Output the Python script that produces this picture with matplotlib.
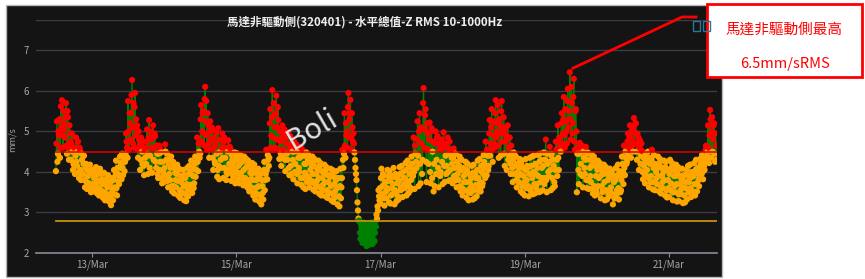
import numpy as np
import pandas as pd
import matplotlib
matplotlib.use("Agg")
import matplotlib.pyplot as plt
import matplotlib.dates as mdates
from matplotlib.patches import Rectangle
from matplotlib.lines import Line2D

plt.rcParams["font.family"] = ["Noto Sans CJK TC", "DejaVu Sans"]

title = "馬達非驅動側(320401) - 水平總值-Z RMS 10-1000Hz"
note_top = "馬達非驅動側最高"
note_bottom = "6.5mm/sRMS"
y_unit = "mm/s"
watermark = "Boli"

start = "2024-03-12 12:00"
step = "20min"
warn_level = 4.5   # red threshold line
low_level = 2.8    # orange threshold line
tick_days = ["2024-03-13", "2024-03-15", "2024-03-17", "2024-03-19", "2024-03-21"]

# RMS readings (mm/s) at :00 / :20 / :40 of each hour
mar12 = [4.02, 5.25, 4.45, 4.9, 4.35, 5.62,
         5.77, 4.6, 5.2, 4.85, 5.7, 4.45,
         5.35, 4.3, 4.95, 4.3, 4.95, 4.05,
         4.6, 3.95, 4.85, 4.15, 4.75, 3.85,
         4.55, 3.8, 4.3, 3.95, 4.4, 3.62,
         4.2, 3.58, 3.9, 3.72, 4.18, 3.5]
mar13 = [4.05, 3.52, 3.85, 3.6, 4.12, 3.47,
         3.95, 3.42, 4.08, 3.55, 3.82, 3.36,
         3.98, 3.3, 3.68, 3.45, 3.92, 3.27,
         3.72, 3.18, 3.5, 3.3, 4.05, 3.62,
         4.28, 3.42, 3.95, 3.7, 4.38, 4.1,
         4.45, 3.92, 4.25, 4.25, 4.95, 4.6,
         5.75, 4.55, 5.2, 5.45, 6.27, 4.7,
         4.6, 5.95, 5.3, 5.15, 4.35, 4.8,
         4.05, 4.85, 4.5, 4.75, 3.92, 4.35,
         4.2, 5.05, 3.95, 5.28, 4.4, 4.8,
         3.98, 5.15, 4.6, 4.88, 4.1, 4.45,
         3.85, 4.65, 4.25, 4.48, 3.72, 4.0]
mar14 = [3.75, 4.68, 4.3, 4.45, 3.62, 3.95,
         3.8, 4.38, 3.52, 4.25, 3.47, 3.98,
         3.62, 4.18, 3.42, 4.08, 3.36, 3.75,
         3.5, 4.05, 3.3, 3.85, 3.28, 4.1,
         3.4, 4.15, 3.68, 4.28, 3.48, 3.9,
         3.72, 4.38, 4.05, 4.85, 4.02, 4.5,
         4.45, 5.65, 5.0, 5.5, 4.65, 6.1,
         5.75, 4.55, 5.15, 4.35, 5.25, 4.8,
         5.05, 4.05, 4.6, 4.2, 4.98, 3.88,
         5.08, 3.82, 4.5, 4.1, 4.95, 3.85,
         4.85, 4.35, 3.8, 3.95, 4.78, 4.2,
         4.58, 3.78, 4.3, 3.9, 4.48, 3.72]
mar15 = [4.47, 3.82, 4.15, 3.72, 4.42, 3.98,
         4.25, 3.67, 4.38, 3.85, 4.32, 3.62,
         4.28, 3.52, 3.98, 3.62, 4.22, 3.42,
         4.18, 3.32, 3.8, 3.45, 4.08, 3.27,
         3.95, 3.2, 3.65, 3.32, 4.25, 3.8,
         4.55, 3.82, 4.3, 4.35, 5.55, 4.9,
         6.02, 4.55, 5.4, 4.6, 5.88, 5.1,
         5.28, 4.32, 4.75, 4.15, 5.15, 4.55,
         5.05, 4.02, 4.7, 4.3, 4.98, 3.92,
         4.88, 3.95, 4.5, 3.82, 4.75, 4.2,
         4.68, 3.72, 4.35, 4.0, 4.62, 3.68,
         4.55, 3.62, 4.2, 3.58, 4.48, 3.9]
mar16 = [4.42, 3.62, 4.05, 3.78, 4.38, 3.56,
         4.32, 3.52, 3.95, 3.65, 4.28, 3.46,
         4.22, 3.42, 3.85, 3.55, 4.18, 3.4,
         4.12, 3.36, 3.75, 3.48, 4.08, 3.3,
         4.05, 3.26, 3.7, 3.38, 4.02, 3.2,
         3.85, 3.15, 4.08, 3.62, 4.55, 4.1,
         5.45, 4.35, 4.9, 4.6, 5.95, 5.3,
         5.78, 4.55, 5.1, 4.95, 4.48, 4.1,
         3.8, 3.25, 2.85, 2.78, 2.35, 2.62,
         2.25, 2.75, 2.45, 2.7, 2.17, 2.52,
         2.2, 2.68, 2.38, 2.75, 2.22, 2.55,
         2.3, 2.78, 2.95, 3.15, 3.55, 3.3]
mar17 = [3.22, 4.08, 3.65, 3.9, 3.17, 3.5,
         3.35, 4.05, 3.78, 4.02, 3.22, 3.6,
         3.45, 4.1, 3.2, 3.95, 3.28, 3.72,
         3.32, 4.12, 3.55, 4.15, 3.38, 3.85,
         3.6, 4.22, 3.42, 4.28, 3.48, 3.95,
         3.55, 4.38, 4.05, 4.85, 3.58, 4.45,
         4.1, 5.25, 3.65, 5.45, 3.72, 4.7,
         4.3, 6.07, 5.05, 5.55, 3.75, 4.95,
         4.2, 5.22, 3.72, 5.08, 4.5, 3.52,
         3.65, 5.0, 4.3, 4.88, 3.62, 4.55,
         4.0, 4.8, 3.7, 4.98, 3.75, 4.4,
         4.15, 4.85, 3.78, 4.75, 3.8, 4.35]
mar18 = [3.72, 4.58, 4.1, 4.45, 3.62, 3.95,
         3.8, 4.38, 3.52, 4.3, 3.42, 3.9,
         3.55, 4.25, 3.36, 4.2, 3.3, 3.75,
         3.48, 4.15, 3.32, 4.18, 3.35, 3.85,
         3.4, 4.28, 3.65, 4.32, 3.52, 4.0,
         3.72, 4.42, 4.1, 4.75, 3.92, 4.4,
         4.15, 5.28, 4.7, 5.55, 4.25, 4.9,
         4.6, 5.77, 5.2, 5.65, 4.35, 4.95,
         4.4, 5.75, 5.1, 5.35, 4.15, 4.75,
         4.05, 5.15, 4.6, 4.85, 3.95, 4.45,
         3.75, 4.48, 4.15, 4.38, 3.62, 4.0,
         3.75, 4.32, 3.52, 4.28, 3.47, 3.9]
mar19 = [3.42, 4.32, 3.8, 4.1, 3.4, 4.35,
         3.6, 4.38, 3.45, 4.4, 3.47, 3.95,
         3.7, 4.42, 3.5, 4.45, 3.52, 4.1,
         3.55, 4.48, 3.85, 4.8, 3.5, 4.2,
         3.9, 4.62, 3.55, 4.45, 3.6, 4.15,
         3.65, 4.75, 4.3, 5.15, 4.05, 4.6,
         4.5, 5.45, 4.95, 5.85, 4.6, 5.25,
         4.7, 6.05, 5.5, 6.46, 4.8, 5.7,
         5.2, 6.3, 4.55, 5.55, 3.5, 4.6,
         3.7, 4.72, 4.2, 4.65, 3.62, 4.35,
         3.95, 4.62, 3.6, 4.48, 3.58, 4.1,
         3.75, 4.42, 3.47, 4.38, 3.42, 3.9]
mar20 = [3.45, 4.28, 3.85, 4.22, 3.35, 3.65,
         3.55, 4.18, 3.3, 4.12, 3.32, 3.8,
         3.4, 4.08, 3.62, 4.02, 3.2, 3.75,
         3.35, 4.1, 3.55, 4.18, 3.32, 3.9,
         3.55, 4.38, 4.0, 4.65, 3.92, 4.35,
         4.25, 4.95, 4.6, 5.15, 4.35, 4.8,
         4.5, 5.33, 4.95, 5.2, 4.3, 4.7,
         4.05, 4.78, 4.4, 4.52, 3.82, 4.15,
         3.72, 4.45, 4.05, 4.5, 3.62, 4.2,
         3.9, 4.55, 3.57, 4.42, 3.55, 4.0,
         3.7, 4.38, 3.52, 4.32, 3.47, 3.9,
         3.6, 4.28, 3.42, 4.25, 3.37, 3.8]
mar21 = [3.38, 4.3, 3.72, 4.22, 3.3, 3.9,
         3.5, 4.18, 3.27, 4.12, 3.28, 3.7,
         3.45, 4.08, 3.23, 3.9, 3.25, 3.6,
         3.32, 4.15, 3.75, 4.18, 3.38, 3.88,
         3.5, 4.22, 3.42, 4.3, 3.52, 3.95,
         3.65, 4.32, 4.05, 4.42, 3.82, 4.15,
         4.25, 4.65, 4.4, 5.15, 4.22, 5.53,
         4.35, 5.35, 4.8, 5.2, 4.25, 4.65]

# readings at :10 / :30 / :50 of each hour
mar12_b = [4.7, 4.25, 5.0, 5.3, 4.6, 5.1,
           4.9, 5.5, 5.05, 5.35, 4.65, 5.5,
           4.6, 5.15, 4.75, 4.7, 4.5, 4.2,
           4.15, 4.4, 4.25, 4.5, 4.0, 4.6,
           4.05, 4.45, 3.95, 4.2, 3.8, 4.1,
           3.75, 4.05, 3.65, 3.95, 3.6, 4.05]
mar13_b = [3.7, 3.95, 3.6, 3.85, 3.72, 4.0,
           3.6, 3.78, 3.52, 3.95, 3.7, 3.45,
           3.5, 3.82, 3.4, 3.62, 3.75, 3.38,
           3.35, 3.85, 3.6, 3.8, 3.45, 3.92,
           3.6, 4.1, 3.78, 3.9, 4.22, 3.82,
           4.1, 4.35, 4.02, 4.45, 4.75, 4.35,
           5.0, 5.45, 4.8, 5.9, 5.1, 5.7,
           5.6, 4.9, 5.05, 4.55, 5.0, 4.65,
           4.3, 4.65, 4.2, 4.15, 4.55, 4.6,
           4.75, 4.45, 4.85, 4.1, 5.0, 4.6,
           4.85, 4.3, 4.95, 4.25, 4.65, 3.95,
           4.45, 4.05, 4.55, 3.85, 4.25, 3.92]
mar14_b = [4.1, 4.5, 3.9, 3.78, 4.2, 4.3,
           4.1, 3.65, 4.22, 3.65, 4.1, 3.8,
           3.95, 3.78, 4.05, 3.55, 3.9, 3.48,
           3.85, 3.65, 3.92, 3.45, 3.7, 3.58,
           3.95, 3.55, 4.02, 3.68, 4.1, 3.6,
           4.2, 3.88, 4.25, 4.25, 4.7, 4.35,
           5.3, 4.75, 5.45, 4.95, 5.8, 5.25,
           4.9, 5.45, 4.7, 5.0, 4.55, 5.1,
           4.35, 4.85, 4.25, 4.7, 4.45, 4.05,
           4.15, 4.8, 4.3, 4.6, 4.35, 4.75,
           4.1, 4.6, 4.0, 4.5, 4.05, 4.62,
           4.0, 4.42, 4.12, 4.25, 4.05, 4.35]
mar15_b = [4.0, 4.3, 3.95, 4.2, 3.85, 4.28,
           3.85, 4.05, 3.78, 4.1, 3.75, 4.2,
           3.7, 4.12, 3.82, 3.95, 3.8, 4.05,
           3.5, 3.98, 3.62, 3.85, 3.65, 3.92,
           3.4, 3.8, 3.48, 4.05, 3.55, 3.95,
           4.05, 4.42, 4.15, 5.2, 4.6, 5.35,
           4.85, 5.7, 5.1, 5.45, 4.8, 5.6,
           4.55, 5.0, 4.45, 4.85, 4.35, 4.95,
           4.3, 4.85, 4.45, 4.7, 4.1, 4.55,
           4.15, 4.65, 4.3, 4.5, 4.0, 4.6,
           3.95, 4.5, 4.1, 4.35, 3.85, 4.45,
           3.85, 4.4, 3.98, 4.2, 3.75, 4.3]
mar16_b = [3.85, 4.25, 3.75, 4.15, 3.95, 4.25,
           3.7, 4.12, 3.78, 4.05, 3.85, 4.15,
           3.6, 4.02, 3.68, 3.95, 3.75, 4.05,
           3.55, 3.92, 3.5, 3.88, 3.65, 3.95,
           3.45, 3.88, 3.52, 3.8, 3.6, 3.85,
           3.4, 3.65, 3.35, 3.85, 4.3, 4.45,
           4.65, 5.2, 5.0, 5.6, 4.85, 5.45,
           4.85, 5.45, 4.75, 4.7, 4.3, 3.95,
           3.55, 3.05, 2.8, 2.5, 2.7, 2.42,
           2.6, 2.35, 2.52, 2.4, 2.62, 2.3,
           2.55, 2.3, 2.45, 2.35, 2.62, 2.28,
           2.5, 2.65, 2.85, 3.05, 3.4, 3.6]
mar17_b = [3.85, 3.45, 3.95, 3.35, 3.75, 3.62,
           3.55, 3.9, 3.25, 3.8, 3.42, 3.9,
           3.7, 3.88, 3.55, 3.5, 3.85, 3.4,
           3.78, 3.95, 3.62, 3.58, 4.0, 3.7,
           3.85, 4.05, 3.75, 3.7, 4.12, 3.62,
           3.8, 4.2, 3.9, 4.0, 4.65, 4.25,
           4.8, 4.4, 5.0, 4.2, 5.1, 3.95,
           5.7, 4.6, 5.4, 4.25, 5.2, 4.55,
           4.8, 4.0, 5.0, 3.85, 4.75, 4.2,
           4.7, 3.95, 4.85, 4.1, 4.7, 3.9,
           4.55, 4.25, 4.65, 4.15, 4.7, 3.95,
           4.6, 4.0, 4.45, 4.05, 4.55, 4.2]
mar18_b = [4.35, 3.9, 4.45, 3.8, 4.25, 4.1,
           4.15, 3.65, 4.05, 3.6, 4.1, 3.75,
           3.95, 3.75, 4.05, 3.5, 3.95, 3.6,
           3.85, 3.65, 3.98, 3.55, 3.95, 3.68,
           4.05, 3.85, 3.52, 3.75, 4.15, 3.65,
           3.95, 4.25, 3.85, 4.15, 4.55, 4.05,
           4.95, 4.4, 5.1, 4.55, 5.25, 4.7,
           5.45, 4.85, 5.0, 4.65, 5.3, 5.15,
           5.5, 4.75, 4.95, 4.45, 5.05, 4.9,
           4.85, 4.3, 4.4, 4.2, 4.65, 4.1,
           4.3, 3.95, 4.4, 3.8, 4.2, 3.9,
           4.1, 3.95, 4.2, 3.65, 4.1, 3.75]
mar19_b = [4.05, 3.6, 4.15, 3.65, 3.95, 3.55,
           4.15, 3.85, 4.0, 3.7, 4.2, 3.6,
           4.1, 3.9, 4.25, 3.75, 4.3, 3.85,
           4.15, 3.7, 4.3, 3.8, 4.45, 4.0,
           4.25, 4.05, 4.4, 3.85, 4.3, 3.75,
           4.05, 4.55, 3.9, 4.35, 4.85, 4.7,
           5.2, 4.7, 5.3, 4.9, 5.55, 5.0,
           5.75, 5.1, 5.3, 5.3, 6.1, 4.95,
           5.85, 4.75, 5.5, 5.0, 4.45, 4.05,
           4.45, 3.95, 4.6, 3.9, 4.5, 4.1,
           4.3, 3.8, 4.45, 3.8, 4.3, 3.9,
           4.15, 3.6, 4.25, 3.65, 4.15, 3.55]
mar20_b = [4.05, 3.65, 4.15, 3.9, 4.05, 3.5,
           3.95, 3.75, 4.05, 3.55, 3.95, 3.45,
           3.85, 3.5, 3.95, 3.45, 3.9, 3.35,
           3.8, 3.45, 3.92, 3.6, 4.02, 3.5,
           3.8, 4.2, 3.7, 4.1, 4.5, 4.2,
           4.75, 4.4, 4.85, 4.55, 5.0, 4.65,
           5.1, 4.7, 5.2, 4.5, 4.95, 4.85,
           4.6, 4.2, 4.7, 4.0, 4.35, 3.95,
           4.25, 3.9, 4.35, 3.85, 4.35, 3.75,
           4.3, 3.75, 4.1, 3.75, 4.2, 3.85,
           4.1, 3.9, 4.2, 3.65, 4.1, 3.75,
           4.0, 3.8, 4.12, 3.55, 4.05, 3.6]
mar21_b = [3.95, 3.55, 4.1, 3.5, 4.05, 3.65,
           3.9, 3.7, 4.0, 3.45, 3.9, 3.55,
           3.8, 3.62, 3.92, 3.42, 3.75, 4.05,
           3.95, 3.5, 3.85, 3.6, 4.0, 3.52,
           3.9, 3.7, 4.05, 3.7, 4.1, 3.8,
           3.85, 4.2, 3.95, 4.0, 4.3, 4.05,
           4.55, 4.3, 4.5, 4.6, 4.9, 5.3,
           5.0, 4.5, 5.15, 4.45, 4.95, 4.3]

rms_a = np.array(mar12 + mar13 + mar14 + mar15 + mar16 + mar17 + mar18 + mar19 + mar20 + mar21)
rms_b = np.array(mar12_b + mar13_b + mar14_b + mar15_b + mar16_b + mar17_b + mar18_b
                 + mar19_b + mar20_b + mar21_b)
rms = np.column_stack([rms_a, rms_b]).ravel()
t = pd.date_range(start, periods=len(rms), freq="10min")

RED, ORANGE, GREEN = "#ff0000", "#ffa500", "#008000"
colors = np.where(rms > warn_level, RED, np.where(rms > low_level, ORANGE, GREEN))

W, H = 865, 279
fig = plt.figure(figsize=(W / 100, H / 100), dpi=100)
fig.patch.set_facecolor("white")

# dark chart panel
fig.patches.append(Rectangle((6 / W, 1 - 277 / H), 716 / W, 272 / H, transform=fig.transFigure,
                             facecolor="#141414", edgecolor="#b8b8b8", lw=1, zorder=-1))

ax = fig.add_axes([36 / W, 1 - 253 / H, 681 / W, 233 / H])
ax.set_facecolor("none")

ax.plot(t, rms, color=GREEN, lw=0.9, zorder=2)
ax.scatter(t, rms, c=colors, s=20, linewidths=0, zorder=3)
ax.plot([t[0], t[-1]], [warn_level, warn_level], color="#e00000", lw=1.1, zorder=4)
ax.plot([t[0], t[-1]], [low_level, low_level], color="#c8900c", lw=1.3, zorder=4)

ax.set_xlim(pd.Timestamp("2024-03-12 05:22"), pd.Timestamp("2024-03-21 15:58"))
ax.set_ylim(2, 7.75)
ax.set_yticks([2, 3, 4, 5, 6, 7])
ax.grid(axis="y", color="#3c3c44", lw=1, zorder=0)
ax.axhline(7.75, color="#3c3c44", lw=1, zorder=0)
ax.set_xticks([pd.Timestamp(d) for d in tick_days])
ax.xaxis.set_major_formatter(mdates.DateFormatter("%d/%b"))

for side in ["top", "right", "left"]:
    ax.spines[side].set_visible(False)
ax.spines["bottom"].set_color("#8c8c98")
ax.spines["bottom"].set_linewidth(1.2)
ax.tick_params(axis="y", length=0, labelcolor="#a8a8a8", labelsize=7, pad=5)
ax.tick_params(axis="x", length=3, color="#8c8c98", labelcolor="#a8a8a8", labelsize=7, pad=2)

fig.text(12 / W, 1 - 140 / H, y_unit, rotation=90, color="#a0a0a0", fontsize=6.5, ha="center", va="center")
fig.text(365 / W, 1 - 22 / H, title, color="#eeeeee", fontsize=8.3, fontweight="bold", ha="center", va="center")

ax.text(0.405, 0.53, watermark, transform=ax.transAxes, rotation=30, fontsize=21,
        color="#e2e2e2", ha="center", va="center", zorder=6)

# callout from the highest reading to the note box
i_max = int(np.argmax(rms))
px, py = fig.transFigure.inverted().transform(
    ax.transData.transform((mdates.date2num(t[i_max]), rms[i_max])))
fig.lines.append(Line2D([px + 3 / W, 682 / W, 696 / W], [py + 4 / H, 1 - 17 / H, 1 - 17 / H],
                        transform=fig.transFigure, color="#ff0000", lw=2, zorder=5))

fig.patches.append(Rectangle((707 / W, 1 - 77 / H), 155 / W, 73 / H, transform=fig.transFigure,
                             facecolor="white", edgecolor="#ff0000", lw=2, zorder=6))
for x0 in (693, 703):
    fig.patches.append(Rectangle((x0 / W, 1 - 31 / H), 7 / W, 10 / H, transform=fig.transFigure,
                                 facecolor="none", edgecolor="#2a7898", lw=1, zorder=7))
fig.text(784 / W, 1 - 30 / H, note_top, color="#ff0000", fontsize=10.5, ha="center", va="center", zorder=8)
fig.text(785 / W, 1 - 64 / H, note_bottom, color="#ff0000", fontsize=10.5, ha="center", va="center", zorder=8)

fig.savefig("out.png", dpi=100)
